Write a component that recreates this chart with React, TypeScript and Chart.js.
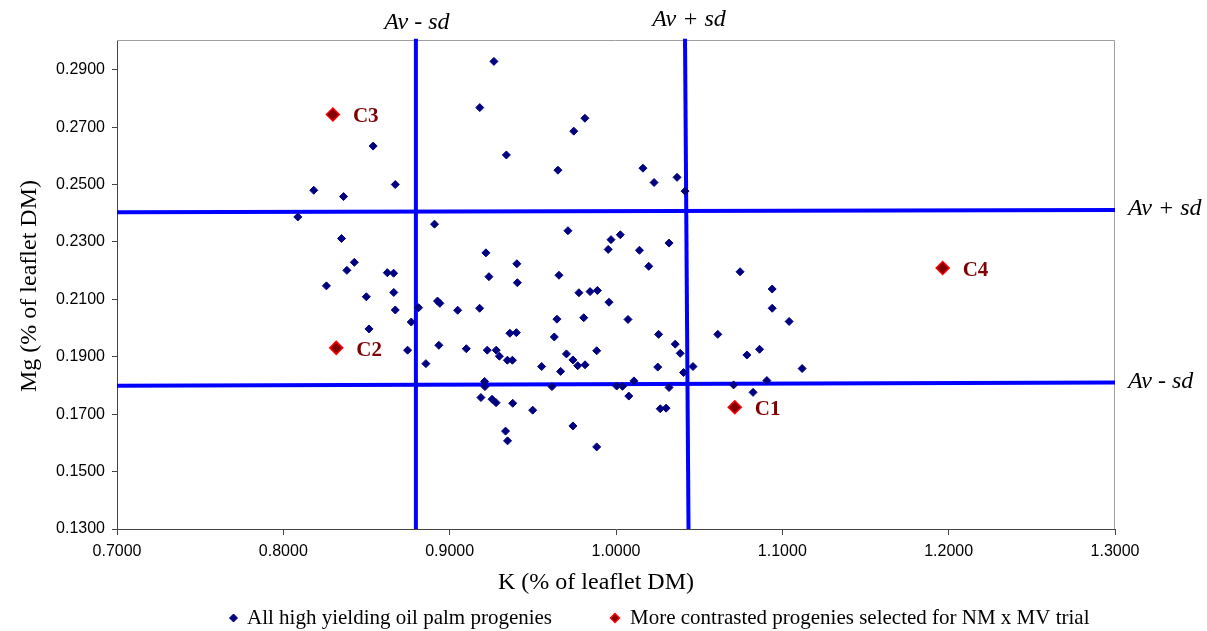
import React, { useEffect, useRef } from 'react';
import { Chart, registerables } from 'chart.js';

Chart.register(...registerables);

// ---- Data ----
const xTicks = [0.7, 0.8, 0.9, 1.0, 1.1, 1.2, 1.3];
const yTicks = [0.13, 0.15, 0.17, 0.19, 0.21, 0.23, 0.25, 0.27, 0.29];

// All high yielding oil palm progenies: K and Mg (% of leaflet DM)
const kAll = [
  0.8087, 0.8183, 0.8362, 0.8540, 0.8673, 0.9181, 0.9266, 0.9341, 0.9746, 0.9813,
  0.9651, 1.0162, 1.0229, 1.0367, 1.0415, 0.8909, 0.8350, 0.9711, 0.9970, 1.0026,
  0.9953, 1.0141, 1.0319, 1.0197, 0.9218, 0.8427, 0.8382, 0.9404, 0.9236, 0.9657,
  0.8625, 0.8663, 0.8259, 0.9407, 0.8499, 0.8664, 0.9777, 0.9844, 0.9888, 0.8927,
  0.8941, 0.8673, 0.8813, 0.9048, 0.9180, 0.9958, 0.8769, 0.8515, 0.8747, 0.8935,
  0.9100, 0.8857, 0.9226, 0.9280, 0.9299, 0.9347, 0.9377, 0.9362, 0.9401, 0.9645,
  0.9629, 0.9702, 0.9741, 0.9770, 0.9814, 0.9553, 0.9667, 0.9806, 1.0072, 0.9884,
  1.0256, 1.0356, 1.0386, 1.0251, 1.0406, 1.0463, 0.9210, 0.9212, 0.9615, 1.0004,
  1.0039, 1.0108, 1.0319, 0.9188, 0.9255, 0.9279, 0.9379, 0.9499, 1.0077, 1.0266,
  1.0301, 0.9741, 0.9336, 0.9348, 0.9884, 1.0746, 1.0939, 1.0939, 1.1041, 1.0612,
  1.0787, 1.0863, 1.1119, 1.0707, 1.0907, 1.0824,
];
const mgAll = [
  0.2387, 0.2480, 0.2458, 0.2634, 0.2500, 0.2768, 0.2929, 0.2603, 0.2686, 0.2731,
  0.2550, 0.2557, 0.2507, 0.2525, 0.2477, 0.2362, 0.2312, 0.2339, 0.2308, 0.2325,
  0.2274, 0.2271, 0.2296, 0.2215, 0.2262, 0.2229, 0.2201, 0.2224, 0.2179, 0.2184,
  0.2193, 0.2191, 0.2147, 0.2158, 0.2109, 0.2124, 0.2123, 0.2127, 0.2131, 0.2094,
  0.2086, 0.2063, 0.2071, 0.2062, 0.2069, 0.2090, 0.2021, 0.1997, 0.1923, 0.1940,
  0.1928, 0.1876, 0.1923, 0.1923, 0.1902, 0.1888, 0.1888, 0.1982, 0.1984, 0.2031,
  0.1969, 0.1910, 0.1889, 0.1869, 0.1872, 0.1866, 0.1849, 0.2036, 0.2030, 0.1921,
  0.1978, 0.1944, 0.1912, 0.1864, 0.1845, 0.1866, 0.1814, 0.1796, 0.1796, 0.1798,
  0.1797, 0.1816, 0.1793, 0.1758, 0.1752, 0.1740, 0.1738, 0.1714, 0.1763, 0.1719,
  0.1721, 0.1659, 0.1641, 0.1607, 0.1586, 0.2196, 0.2136, 0.2069, 0.2023, 0.1978,
  0.1906, 0.1926, 0.1859, 0.1802, 0.1817, 0.1776,
];

// More contrasted progenies selected for NM x MV trial
const selLabels = ['C1', 'C2', 'C3', 'C4'];
const kSel = [1.0714, 0.8318, 0.8298, 1.1964];
const mgSel = [0.1724, 0.1931, 0.2744, 0.2209];

// Av - sd / Av + sd reference lines
const kLowLineX = [0.8797, 0.8797];
const kLowLineY = [0.1300, 0.3008];
const kHighLineX = [1.0415, 1.0436];
const kHighLineY = [0.3008, 0.1300];
const mgHighLineX = [0.70, 1.30];
const mgHighLineY = [0.2403, 0.2411];
const mgLowLineX = [0.70, 1.30];
const mgLowLineY = [0.1799, 0.1810];

const seriesNames = [
  'All high yielding oil palm progenies',
  'More contrasted progenies selected for NM x MV trial',
];

const SERIF = '"Liberation Serif", "Times New Roman", serif';
const SANS = '"Liberation Sans", Arial, sans-serif';

function toPts(xs: number[], ys: number[]) {
  return xs.map((x, i) => ({ x, y: ys[i] }));
}

function diamond(ctx: CanvasRenderingContext2D, x: number, y: number, r: number, fill: string, stroke: string, lw: number) {
  ctx.beginPath();
  ctx.moveTo(x - r, y);
  ctx.lineTo(x, y - r);
  ctx.lineTo(x + r, y);
  ctx.lineTo(x, y + r);
  ctx.closePath();
  ctx.fillStyle = fill;
  ctx.fill();
  if (lw > 0) {
    ctx.lineWidth = lw;
    ctx.strokeStyle = stroke;
    ctx.stroke();
  }
}

export default function App() {
  const ref = useRef<HTMLCanvasElement>(null);

  useEffect(() => {
    const canvas = ref.current;
    if (!canvas) return;

    const lineDs = (xs: number[], ys: number[]) => ({
      label: '',
      data: toPts(xs, ys),
      showLine: true,
      borderColor: '#0000FF',
      backgroundColor: '#0000FF',
      borderWidth: 4,
      pointRadius: 0,
      pointHoverRadius: 0,
      fill: false,
      tension: 0,
      clip: false as any,
    });

    const overlay = {
      id: 'overlay',
      beforeDatasetsDraw(chart: any) {
        const { ctx, chartArea: a } = chart;
        ctx.save();
        ctx.strokeStyle = '#a0a0a0';
        ctx.lineWidth = 1;
        ctx.beginPath();
        ctx.moveTo(a.left, a.top - 0.5);
        ctx.lineTo(a.right - 0.5, a.top - 0.5);
        ctx.lineTo(a.right - 0.5, a.bottom);
        ctx.stroke();
        ctx.restore();
      },
      afterDraw(chart: any) {
        const { ctx } = chart;
        const xs = chart.scales.x;
        const ys = chart.scales.y;
        ctx.save();

        // selected progeny labels
        ctx.fillStyle = '#800000';
        ctx.font = `bold 21px ${SERIF}`;
        ctx.textAlign = 'left';
        ctx.textBaseline = 'alphabetic';
        selLabels.forEach((lab, i) => {
          const px = xs.getPixelForValue(kSel[i]);
          const py = ys.getPixelForValue(mgSel[i]);
          ctx.fillText(lab, px + 20, py + 8);
        });

        // Av +/- sd labels
        ctx.fillStyle = '#000000';
        ctx.font = `italic 24px ${SERIF}`;
        ctx.textAlign = 'center';
        ctx.fillText('Av - sd', xs.getPixelForValue(kLowLineX[1]) + 1, 29);
        ctx.fillText('Av + sd', xs.getPixelForValue(kHighLineX[0]) + 4, 26);
        ctx.textAlign = 'left';
        ctx.fillText('Av + sd', 1128, ys.getPixelForValue(mgHighLineY[1]) + 5);
        ctx.fillText('Av - sd', 1128, ys.getPixelForValue(mgLowLineY[1]) + 5);

        // axis titles
        ctx.font = `24px ${SERIF}`;
        ctx.textAlign = 'center';
        ctx.fillText('K (% of leaflet DM)', 596, 589);
        ctx.save();
        ctx.translate(36, 286);
        ctx.rotate(-Math.PI / 2);
        ctx.fillText('Mg (% of leaflet DM)', 0, 0);
        ctx.restore();

        // legend
        ctx.font = `21px ${SERIF}`;
        ctx.textAlign = 'left';
        diamond(ctx, 233.5, 618, 4, '#000080', '#000080', 1);
        ctx.fillStyle = '#000000';
        ctx.fillText(seriesNames[0], 247, 624);
        diamond(ctx, 615, 618, 4.5, '#800000', '#FF0000', 1.5);
        ctx.fillStyle = '#000000';
        ctx.fillText(seriesNames[1], 630, 624);

        ctx.restore();
      },
    };

    const chart = new Chart(canvas, {
      type: 'scatter',
      data: {
        datasets: [
          {
            label: seriesNames[0],
            data: toPts(kAll, mgAll),
            pointStyle: 'rectRot',
            pointRadius: 4,
            pointHoverRadius: 4,
            backgroundColor: '#000080',
            borderColor: '#000080',
            borderWidth: 1,
          },
          {
            label: seriesNames[1],
            data: toPts(kSel, mgSel),
            pointStyle: 'rectRot',
            pointRadius: 6.5,
            pointHoverRadius: 6.5,
            backgroundColor: '#800000',
            borderColor: '#FF0000',
            borderWidth: 1.5,
          },
          lineDs(kLowLineX, kLowLineY),
          lineDs(kHighLineX, kHighLineY),
          lineDs(mgHighLineX, mgHighLineY),
          lineDs(mgLowLineX, mgLowLineY),
        ] as any,
      },
      options: {
        animation: false,
        responsive: false,
        devicePixelRatio: 1,
        layout: { padding: { top: 41, right: 92, bottom: 42, left: 0 } },
        plugins: {
          legend: { display: false },
          tooltip: { enabled: false },
          title: { display: false },
        },
        scales: {
          x: {
            type: 'linear',
            position: 'bottom',
            min: xTicks[0],
            max: xTicks[xTicks.length - 1],
            afterBuildTicks: (s: any) => {
              s.ticks = xTicks.map((v) => ({ value: v }));
            },
            afterFit: (s: any) => {
              s.height = 60;
            },
            ticks: {
              callback: (v: any) => Number(v).toFixed(4),
              font: { family: SANS, size: 16 },
              color: '#000000',
              padding: 7,
              maxRotation: 0,
              autoSkip: false,
            },
            grid: { drawOnChartArea: false, drawTicks: true, tickLength: 6, color: '#444444' },
            border: { display: true, color: '#444444', width: 1 },
            title: { display: false },
          },
          y: {
            type: 'linear',
            position: 'left',
            min: 0.13,
            max: 0.30,
            afterBuildTicks: (s: any) => {
              s.ticks = yTicks.map((v) => ({ value: v }));
            },
            afterFit: (s: any) => {
              s.width = 117;
            },
            ticks: {
              callback: (v: any) => Number(v).toFixed(4),
              font: { family: SANS, size: 16 },
              color: '#000000',
              padding: 7,
              autoSkip: false,
            },
            grid: { drawOnChartArea: false, drawTicks: true, tickLength: 5, color: '#444444' },
            border: { display: true, color: '#444444', width: 1 },
            title: { display: false },
          },
        },
      } as any,
      plugins: [overlay],
    });

    return () => {
      chart.destroy();
    };
  }, []);

  return (
    <div style={{ position: 'absolute', left: 0, top: 0, width: 1207, height: 631, background: '#ffffff' }}>
      <canvas ref={ref} width={1207} height={631} style={{ display: 'block', width: 1207, height: 631 }} />
    </div>
  );
}
